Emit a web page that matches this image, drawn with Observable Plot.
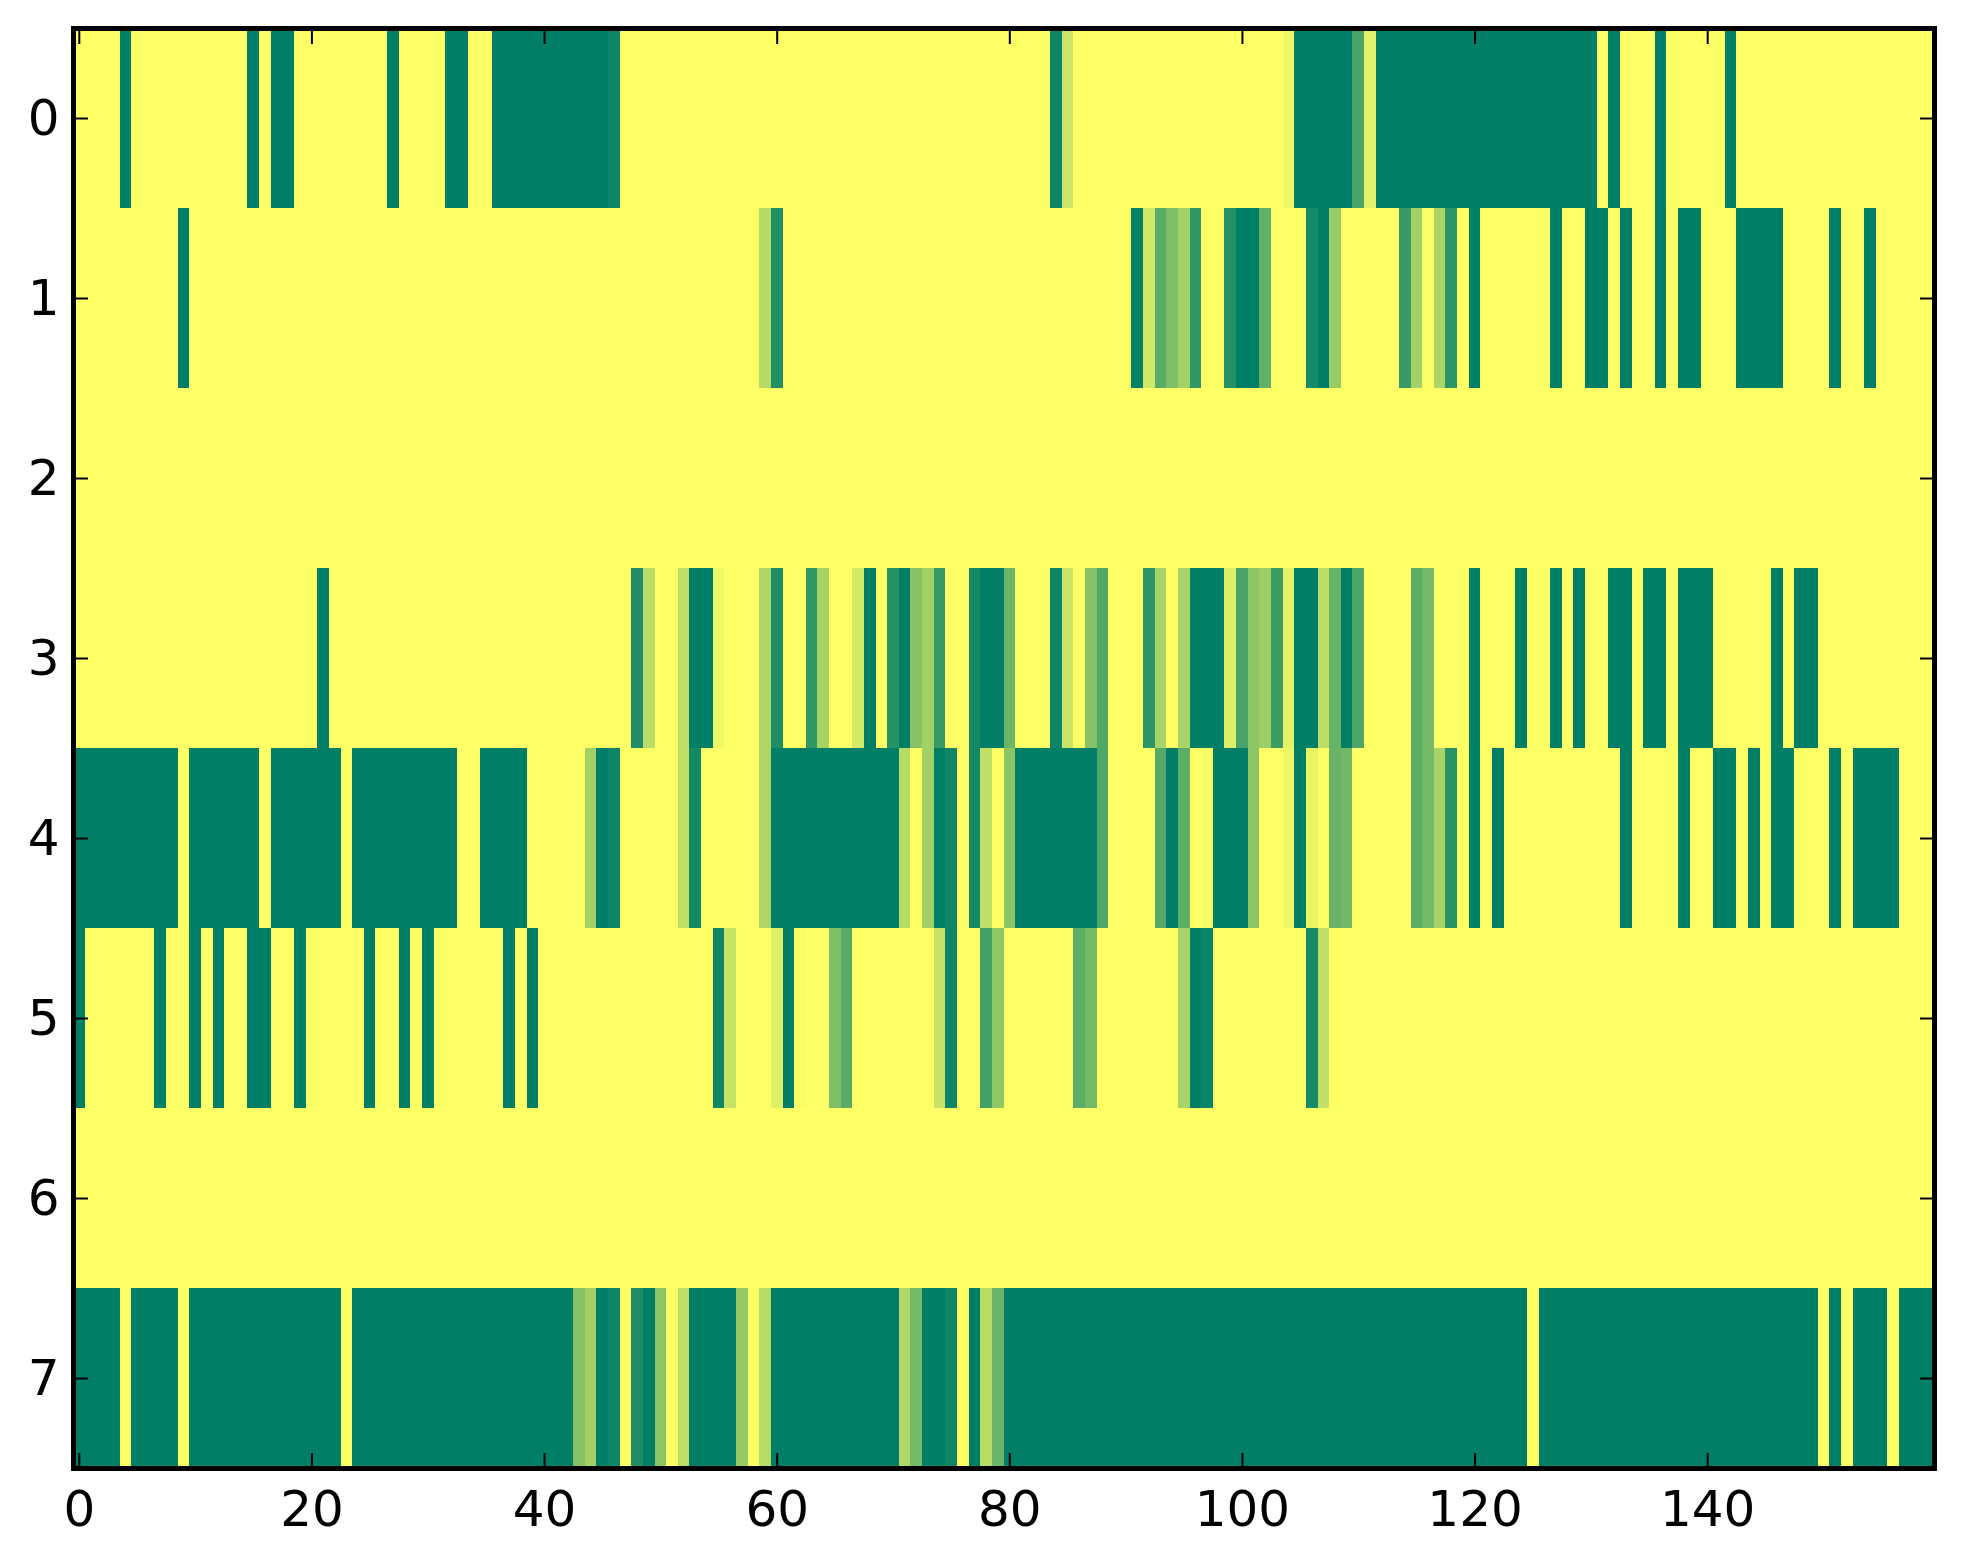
<!DOCTYPE html>
<html>
<head>
<meta charset="utf-8">
<style>
html,body{margin:0;padding:0;background:#fff;overflow:hidden}
svg{display:block}
</style>
<script src="https://cdn.jsdelivr.net/npm/d3@7"></script>
<script src="https://cdn.jsdelivr.net/npm/@observablehq/plot@0.6"></script>
</head>
<body>
<div id="chart"></div>
<script>
const xTicks = [0, 20, 40, 60, 80, 100, 120, 140];
const yTicks = [0, 1, 2, 3, 4, 5, 6, 7];

// Fully saturated runs [from, to] per row
const row0Runs = [[4,4],[15,15],[17,18],[27,27],[32,33],[36,45],[105,109],[112,130],[132,132],[136,136],[142,142]];
const row1Runs = [[9,9],[100,101],[107,107],[120,120],[127,127],[130,131],[133,133],[136,136],[138,139],[143,146],[151,151],[154,154]];
const row2Runs = [];
const row3Runs = [[21,21],[53,54],[68,68],[71,71],[78,79],[96,98],[105,106],[109,109],[120,120],[124,124],[127,127],[129,129],[132,133],[135,136],[138,140],[146,146],[148,149]];
const row4Runs = [[0,8],[10,15],[17,22],[24,32],[35,38],[45,45],[60,70],[74,74],[81,87],[94,94],[98,100],[105,105],[120,120],[122,122],[133,133],[138,138],[141,142],[144,144],[146,147],[151,151],[153,156]];
const row5Runs = [[0,0],[7,7],[10,10],[12,12],[15,16],[19,19],[25,25],[28,28],[30,30],[37,37],[39,39],[61,61],[96,96]];
const row6Runs = [];
const row7Runs = [[0,3],[5,8],[10,22],[24,42],[45,45],[49,49],[53,56],[60,70],[73,74],[77,77],[80,124],[126,149],[151,151],[153,155],[157,159]];

// Intermediate cells [column, value] per row
const row0Mid = [[46,.95],[84,.95],[85,.2],[104,.07],[110,.72],[111,.11]];
const row1Mid = [[59,.29],[60,.87],[91,.98],[92,.18],[93,.65],[94,.5],[95,.36],[96,.81],[99,.86],[102,.61],[106,.91],[108,.4],[114,.78],[115,.36],[117,.33],[118,.83]];
const row2Mid = [];
const row3Mid = [[48,.88],[49,.27],[52,.25],[55,.06],[59,.32],[60,.88],[63,.81],[64,.35],[67,.17],[70,.85],[72,.47],[73,.37],[74,.79],[77,.92],[80,.58],[84,.95],[85,.21],[87,.47],[88,.69],[92,.82],[93,.34],[95,.34],[99,.13],[100,.72],[101,.45],[102,.39],[103,.77],[104,.1],[107,.26],[108,.6],[110,.7],[115,.64],[116,.55]];
const row4Mid = [[44,.37],[46,.95],[52,.25],[53,.92],[59,.32],[71,.29],[73,.37],[75,.94],[77,.92],[78,.25],[80,.45],[88,.69],[93,.67],[95,.64],[97,.03],[101,.45],[104,.07],[106,.09],[108,.59],[109,.56],[115,.64],[116,.55],[117,.34],[118,.84]];
const row5Mid = [[55,.94],[56,.23],[60,.12],[62,.02],[65,.5],[66,.65],[74,.22],[75,.94],[78,.73],[79,.44],[86,.64],[87,.55],[95,.34],[97,.96],[106,.91],[107,.25]];
const row6Mid = [];
const row7Mid = [[43,.47],[44,.36],[46,.95],[48,.88],[50,.45],[52,.25],[57,.42],[59,.28],[71,.31],[72,.54],[75,.94],[78,.28],[79,.58]];

const allRuns = [row0Runs,row1Runs,row2Runs,row3Runs,row4Runs,row5Runs,row6Runs,row7Runs];
const allMid = [row0Mid,row1Mid,row2Mid,row3Mid,row4Mid,row5Mid,row6Mid,row7Mid];
const columns = d3.range(160);

const grid = [];
yTicks.forEach(row => {
  const values = new Map();
  allRuns[row].forEach(([a,b]) => { for (let c = a; c <= b; c++) values.set(c, 1); });
  allMid[row].forEach(([c,v]) => values.set(c, v));
  columns.forEach(col => grid.push({row, col, v: values.get(col) ?? 0}));
});

const tickStyle = {stroke:"black", strokeWidth:2, text:null, label:null, tickSize:-15};
const textStyle = {tickSize:0, label:null, fontSize:50, color:"black"};

const chart = Plot.plot({
  width:1963, height:1564,
  marginLeft:73, marginRight:29, marginTop:28, marginBottom:96,
  style:{fontFamily:"'DejaVu Sans', sans-serif", background:"white", overflow:"visible"},
  x:{type:"band", domain:columns, padding:0, round:false, axis:null},
  y:{type:"band", domain:yTicks, padding:0, round:false, axis:null},
  color:{type:"linear", domain:[0,1], range:["#ffff66","#007f66"], interpolate:"rgb"},
  marks:[
    Plot.cell(grid,{x:"col", y:"row", fill:"v", inset:0, shapeRendering:"crispEdges"}),
    Plot.axisX({...tickStyle, ticks:xTicks, anchor:"bottom"}),
    Plot.axisX({...tickStyle, ticks:xTicks, anchor:"top"}),
    Plot.axisY({...tickStyle, ticks:yTicks, anchor:"left"}),
    Plot.axisY({...tickStyle, ticks:yTicks, anchor:"right"}),
    Plot.axisX({...textStyle, ticks:xTicks, anchor:"bottom", tickPadding:22, tickFormat:d=>String(d)}),
    Plot.axisY({...textStyle, ticks:yTicks, anchor:"left", tickPadding:14, tickFormat:d=>String(d)}),
    Plot.frame({stroke:"black", strokeWidth:5})
  ]
});
document.getElementById("chart").appendChild(chart);
</script>
</body>
</html>
